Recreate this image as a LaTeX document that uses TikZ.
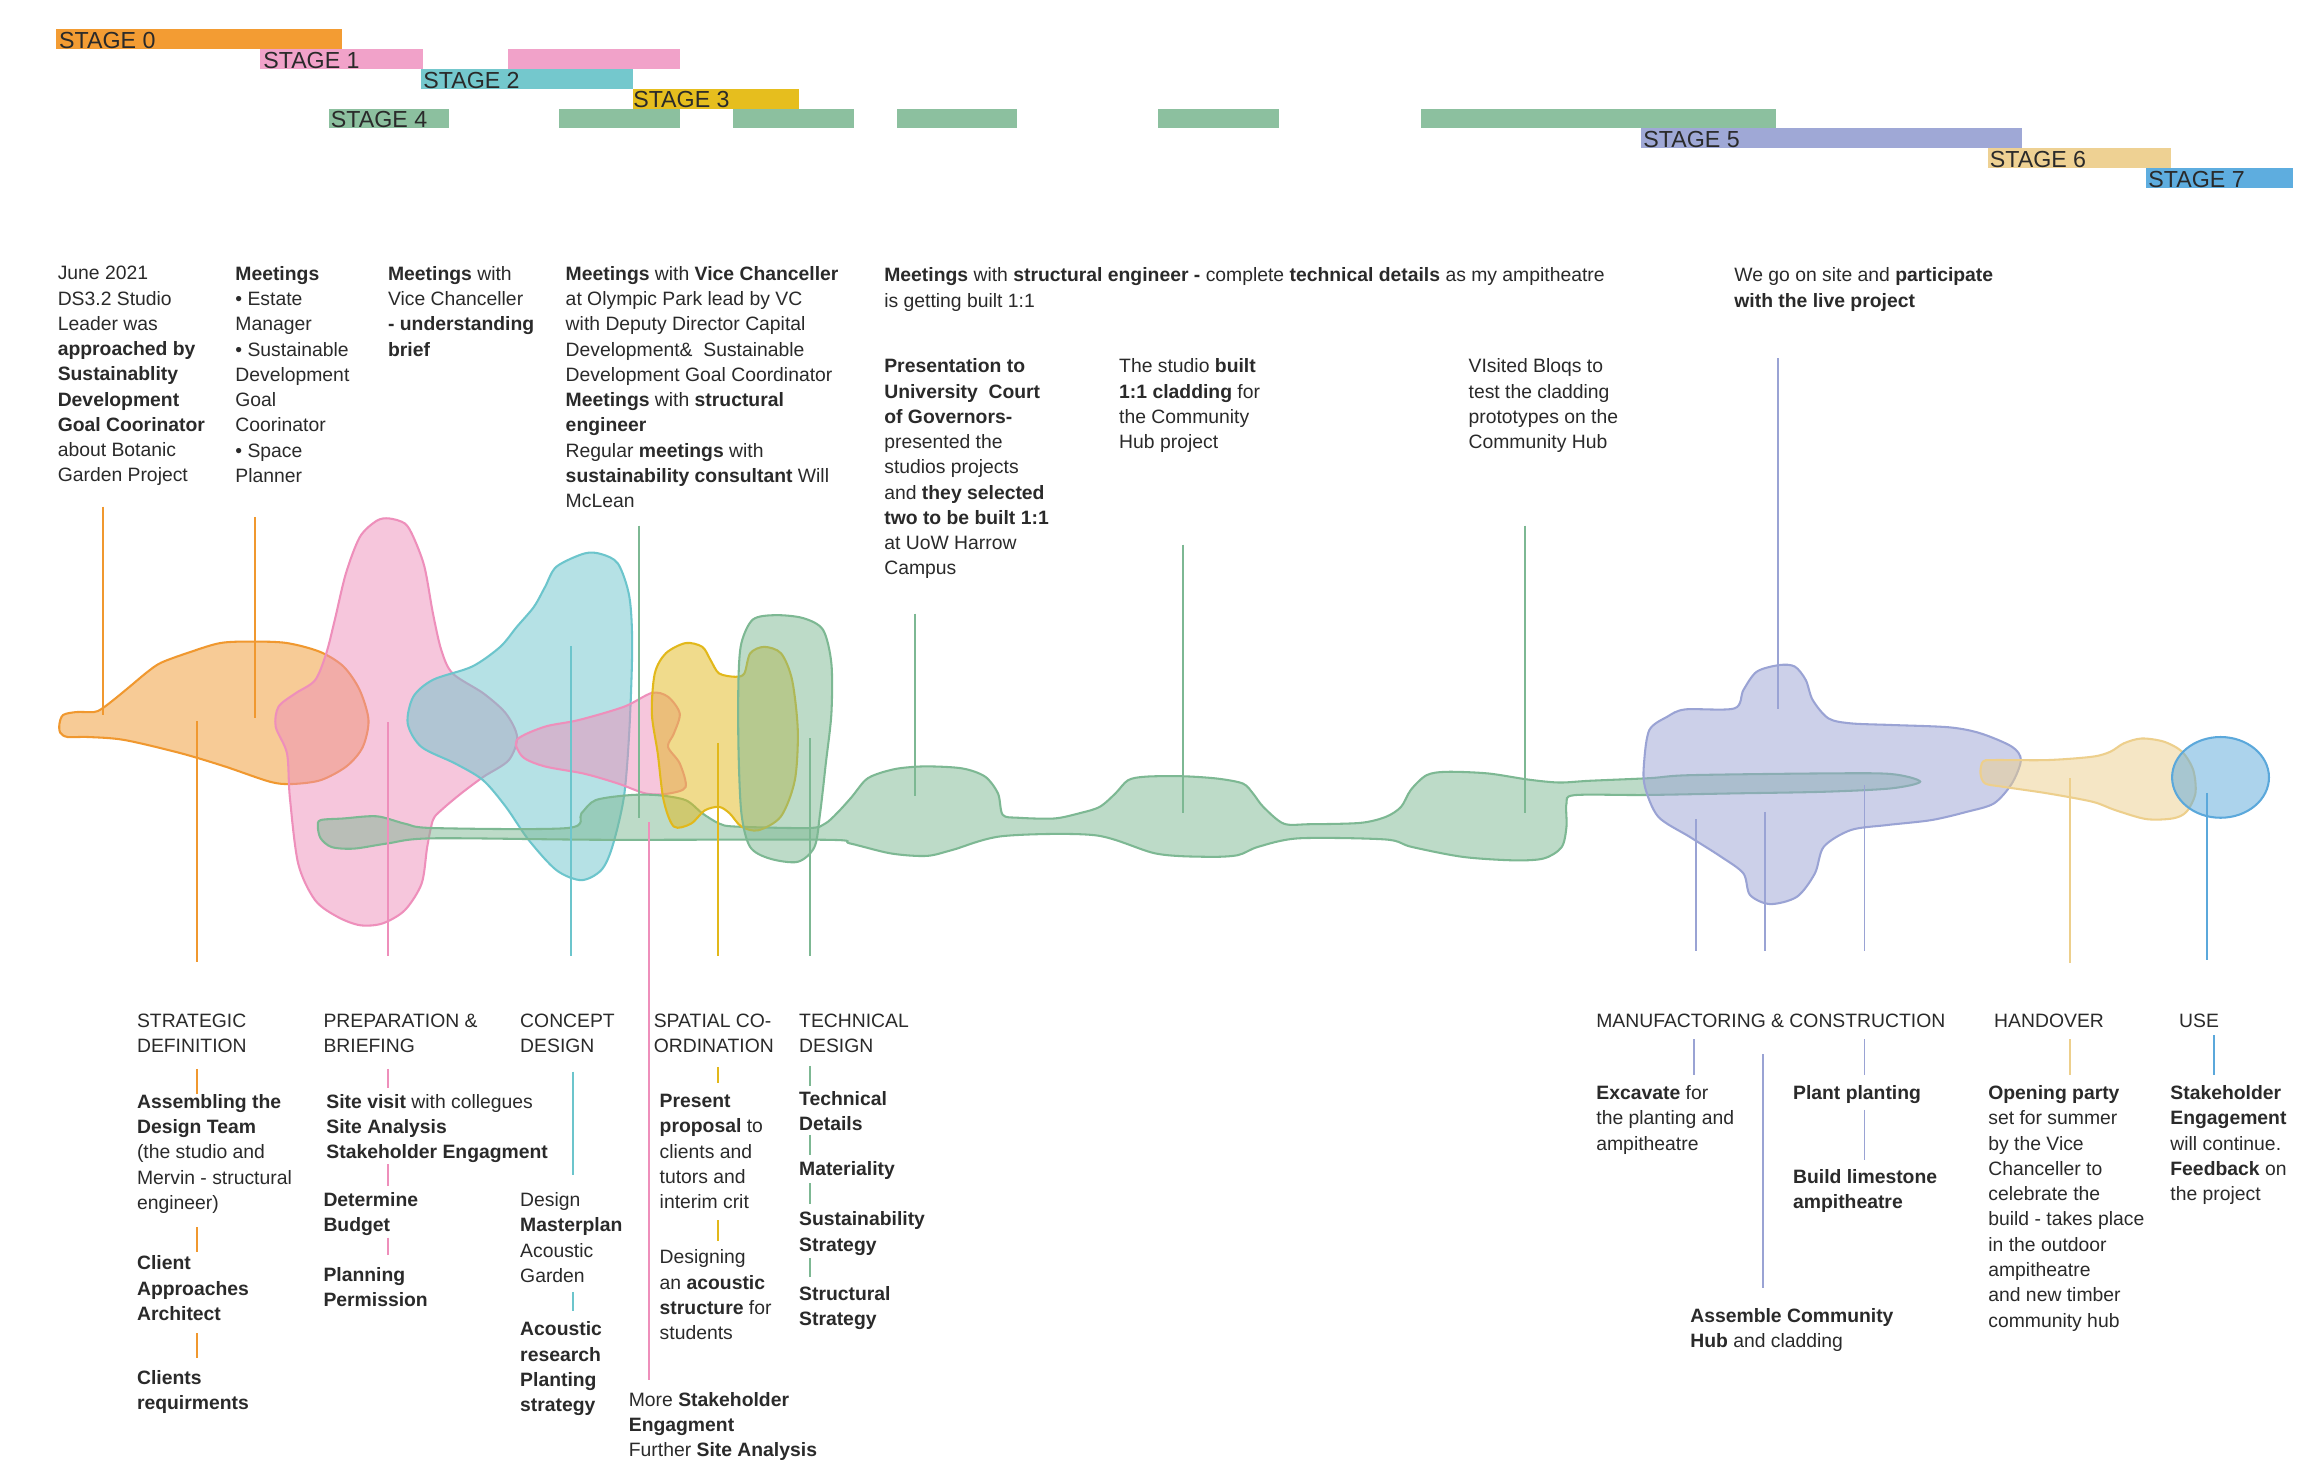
\documentclass[tikz,border=0pt]{standalone}
\usepackage{fontspec}
\setmainfont{Liberation Sans}
\usetikzlibrary{positioning}

\definecolor{ink}{HTML}{2A2A2A}
\definecolor{sOrange}{HTML}{F0982F}
\definecolor{sPink}{HTML}{EE8FBB}
\definecolor{sTeal}{HTML}{6CC5CC}
\definecolor{sYellow}{HTML}{E2B81A}
\definecolor{sGreen}{HTML}{7DB893}
\definecolor{sLav}{HTML}{9AA3D4}
\definecolor{sTan}{HTML}{EDCF8C}
\definecolor{sBlue}{HTML}{5BA8DB}
\definecolor{bOrange}{HTML}{F39C33}
\definecolor{bPink}{HTML}{F1A2C9}
\definecolor{bTeal}{HTML}{74C8CD}
\definecolor{bYellow}{HTML}{E6BE1E}
\definecolor{bGreen}{HTML}{8CC09F}
\definecolor{bLav}{HTML}{9FA8D6}
\definecolor{bTan}{HTML}{EED193}
\definecolor{bBlue}{HTML}{5EADDF}

\tikzset{
  txt/.style={anchor=north west, inner sep=0pt, align=left, text=ink,
    font=\fontsize{7.5}{9.8}\selectfont},
  stagetxt/.style={anchor=west, inner sep=0pt, text=ink,
    font=\fontsize{9}{10}\selectfont},
  blob/.style={draw=#1, line width=0.8pt, fill=#1, fill opacity=0.5},
  lne/.style={draw=#1, line width=0.75pt},
}

\begin{document}
\begin{tikzpicture}[x=0.02cm, y=-0.02cm]
	\useasboundingbox (0,0) rectangle (1568,1002);
	\fill[white] (0,0) rectangle (1568,1002);
	% stage bars
	\fill[bOrange] (38,20) rectangle (233,33.5);
	\fill[bPink] (177,33.5) rectangle (288,47);
	\fill[bPink] (346,33.5) rectangle (463,47);
	\fill[bTeal] (287,47) rectangle (431,60.5);
	\fill[bYellow] (431,60.5) rectangle (544,74);
	\fill[bGreen] (224,74) rectangle (306,87.5);
	\fill[bGreen] (381,74) rectangle (463,87.5);
	\fill[bGreen] (499,74) rectangle (582,87.5);
	\fill[bGreen] (611,74) rectangle (693,87.5);
	\fill[bGreen] (789,74) rectangle (871,87.5);
	\fill[bGreen] (968,74) rectangle (1210,87.5);
	\fill[bLav] (1118,87.5) rectangle (1377,101);
	\fill[bTan] (1354,101) rectangle (1479,114.5);
	\fill[bBlue] (1462,114.5) rectangle (1562,128);
	\node[stagetxt] (st0) at (40,27.5) {STAGE 0};
	\node[stagetxt] (st1) at (179,41) {STAGE 1};
	\node[stagetxt] (st2) at (288,54.5) {STAGE 2};
	\node[stagetxt] (st3) at (431,68) {STAGE 3};
	\node[stagetxt] (st4) at (225,81.5) {STAGE 4};
	\node[stagetxt] (st5) at (1119,95) {STAGE 5};
	\node[stagetxt] (st6) at (1355,108.5) {STAGE 6};
	\node[stagetxt] (st7) at (1463,122) {STAGE 7};

	% blobs
	\draw[blob=sOrange] plot[smooth cycle] coordinates {(40.5,493) (43,487) (52,485) (64,485) (69,483) (77,477) (88,468) (100,458) (109.5,451.5) (127,445) (150,438) (172.5,437) (195.5,438) (218,444) (234,454) (245,470) (251,490.5) (247,509) (236,522) (218.4,531.4) (199,534) (184,532.5) (153,522) (123,513) (84.6,504) (60,502) (46,502) (41,499)};
	\draw[blob=sPink] plot[smooth cycle] coordinates {(265,353.1) (275.7,356.5) (281.5,365.6) (289.1,386) (294.9,417.8) (300.6,442.8) (308.3,458.7) (329.3,472.3) (344.6,486) (352.2,501.9) (346.5,517.8) (329.3,529.1) (314,540.5) (300.6,551.8) (294.9,558.6) (291,576.8) (287.2,601.8) (275.7,620) (260.5,629) (245.2,630.2) (229.9,624.5) (214.6,613.1) (203.1,588.2) (197.4,542.7) (195.5,513.2) (187.8,495) (189.7,481.4) (201.2,472.3) (214.6,463.3) (222.2,445.1) (228,422.4) (235.6,390.6) (245.2,365.6) (256.6,354.7)};
	\draw[blob=sTeal] plot[smooth cycle] coordinates {(398,377) (379,386) (371.3,399.7) (363.7,413.3) (352,427) (340.7,440.6) (321.6,454) (295,463) (281.5,474.6) (277.7,492.8) (287,508.7) (310,520) (329,531.4) (344.6,549.6) (360,572) (379,592.7) (396,599.5) (409.5,592.7) (417,577) (425,542.7) (428.7,497) (430.6,440.6) (428.7,406.5) (421,384) (409.5,377.4)};
	\draw[blob=sPink] plot[smooth cycle] coordinates {(352,504) (371,495) (394,490.5) (425,481.4) (444,472) (455,474.6) (463,486) (459,499.6) (455,508.7) (463,520) (467,536) (455.4,540.5) (440,540.5) (421,533.7) (398,527) (371,522) (356,515.5)};
	\draw[blob=sGreen] plot[smooth cycle] coordinates {(216.5,563) (218.4,558.6) (233.7,557.5) (256.6,556) (275.7,561) (294.9,564) (386.6,564) (396,554) (405.7,545) (428.7,541.6) (447.8,541.6) (467,545) (478.4,554) (490,561) (501,563) (551,564) (562,561) (570,554) (580,543) (589.4,531.4) (598,527) (612,523.4) (631,522) (655.5,523.4) (671,529) (679.8,540.5) (683,555) (693.7,557) (718,557.5) (735,554) (749,549.6) (759.7,540.5) (768.4,531.4) (780.5,529) (804.9,528.7) (829,530.3) (846.6,533.7) (853.5,540.5) (860.5,549.6) (874.4,561) (891.8,561.4) (926.5,560.5) (943.9,556.4) (954.3,549.6) (961,538) (971.7,528) (985.6,525.7) (1013.4,526.8) (1041,531) (1062,533) (1083,531.8) (1124,530) (1150.9,528) (1242.3,526.8) (1288,527.2) (1307.9,532.4) (1288,537) (1242.3,539.3) (1181.4,540.4) (1120.4,541.5) (1072.5,541.6) (1067,547.3) (1067,563) (1063.7,577) (1051.6,584.7) (1030.8,586) (996,583.6) (961.3,576.8) (943.9,571.8) (884.8,571) (857,576.8) (843,582.5) (822,583.6) (787.5,581.4) (745.8,568.9) (683,569.5) (648.5,579) (631,583) (606.8,581.3) (579,574.5) (562.5,572) (409.5,572) (294.9,571) (264,574.5) (241.3,578) (226,577) (218.4,571)};
	\draw[blob=sYellow] plot[smooth cycle] coordinates {(467,438) (453.5,445) (446,458.7) (444,486) (448,513) (452,545) (459,563) (470.7,561) (480,552) (489.8,549.6) (497,554) (505,563) (516.6,565.5) (532,556) (541.4,531.4) (543.4,497.3) (539.5,463) (532,445) (520.4,440.6) (511,445) (507,458.7) (501,461) (489.8,458.7) (484,449.6) (478.4,440.6)};
	\draw[blob=sGreen] plot[smooth cycle] coordinates {(505,438) (512.8,422) (528,419) (547,421) (560.6,429) (566.3,452) (566.3,486) (562.5,520) (558.6,554) (554.8,576.8) (543.4,587) (524.3,584.8) (510.9,576.8) (505,554) (503,509) (503,463)};
	\draw[blob=sLav] plot[smooth cycle] coordinates {(1123.4,497.3) (1135.6,488.2) (1147.8,483.2) (1181.4,482.5) (1187.5,470) (1196.6,457.5) (1211.9,453) (1222.5,454) (1230,463.2) (1234.7,476.8) (1245.4,489.3) (1260.6,492.7) (1288,493.8) (1327.7,495.4) (1349,499.5) (1370.4,508.6) (1376.5,517.7) (1370.4,533.6) (1358.2,547.2) (1339.9,552.9) (1315.5,558.6) (1285,562) (1260.6,565.4) (1242.3,576.7) (1236.2,594.9) (1224,610.8) (1205.7,615.8) (1192,609.6) (1187.5,594.9) (1172.2,583.5) (1150.9,570) (1129.5,556.3) (1120.4,535.9) (1119.8,520)};
	\draw[blob=sTan] plot[smooth cycle] coordinates {(1350.6,518.8) (1358.2,517.7) (1394.8,517.7) (1425.3,515.4) (1437.5,512) (1446.6,506.3) (1458.8,503) (1474,505.2) (1486.3,512) (1493.9,524.5) (1495.4,540.4) (1489.3,552.9) (1480.2,557.4) (1461.9,557.9) (1440.5,551.7) (1425.3,546.1) (1394.8,540.4) (1364.3,535.9) (1352.1,533.6) (1349,526.8)};
	\draw[blob=sBlue] (1512.5,529.5) ellipse [x radius=33, y radius=27.5];

	% top texts
	\node[txt] (jun) at (39,181) {June 2021\\DS3.2 Studio\\Leader was\\\textbf{approached by}\\\textbf{Sustainablity}\\\textbf{Development}\\\textbf{Goal Coorinator}\\about Botanic\\Garden Project};
	\node[txt] (meet) at (160,181) {\textbf{Meetings}\\• Estate\\Manager\\• Sustainable\\Development\\Goal\\Coorinator\\• Space\\Planner};
	\node[txt] (vc) at (264,181) {\textbf{Meetings} with\\Vice Chanceller\\\textbf{- understanding}\\\textbf{brief}};
	\node[txt] (olym) at (385,181) {\textbf{Meetings} with \textbf{Vice Chanceller}\\at Olympic Park lead by VC\\with Deputy Director Capital\\Development\&\ \ Sustainable\\Development Goal Coordinator\\\textbf{Meetings} with \textbf{structural}\\\textbf{engineer}\\Regular \textbf{meetings} with\\\textbf{sustainability consultant} Will\\McLean};
	\node[txt] (struc) at (602,182) {\textbf{Meetings} with \textbf{structural engineer -} complete \textbf{technical details} as my ampitheatre\\is getting built 1:1};
	\node[txt] (pres) at (602,244) {\textbf{Presentation to}\\\textbf{University\ \ Court}\\\textbf{of Governors-}\\presented the\\studios projects\\and \textbf{they selected}\\\textbf{two to be built 1:1}\\at UoW Harrow\\Campus};
	\node[txt] (clad) at (762,244) {The studio \textbf{built}\\\textbf{1:1 cladding} for\\the Community\\Hub project};
	\node[txt] (bloq) at (1000,244) {VIsited Bloqs to\\test the cladding\\prototypes on the\\Community Hub};
	\node[txt] (site) at (1181,182) {We go on site and \textbf{participate}\\\textbf{with the live project}};

	% stage headings
	\node[txt] (hSD) at (93,690) {STRATEGIC\\DEFINITION};
	\node[txt] (hPB) at (220,690) {PREPARATION \&\\BRIEFING};
	\node[txt] (hCD) at (354,690) {CONCEPT\\DESIGN};
	\node[txt] (hSC) at (445,690) {SPATIAL CO-\\ORDINATION};
	\node[txt] (hTD) at (544,690) {TECHNICAL\\DESIGN};
	\node[txt] (hMC) at (1087,690) {MANUFACTORING \& CONSTRUCTION};
	\node[txt] (hHO) at (1358,690) {HANDOVER};
	\node[txt] (hUS) at (1484,690) {USE};

	% bottom texts
	\node[txt] (sd1) at (93,745) {\textbf{Assembling the}\\\textbf{Design Team}\\(the studio and\\Mervin - structural\\engineer)};
	\node[txt] (sd2) at (93,855) {\textbf{Client}\\\textbf{Approaches}\\\textbf{Architect}};
	\node[txt] (sd3) at (93,933) {\textbf{Clients}\\\textbf{requirments}};
	\node[txt] (pb1) at (222,745) {\textbf{Site visit} with collegues\\\textbf{Site Analysis}\\\textbf{Stakeholder Engagment}};
	\node[txt] (pb2) at (220,812) {\textbf{Determine}\\\textbf{Budget}};
	\node[txt] (pb3) at (220,863) {\textbf{Planning}\\\textbf{Permission}};
	\node[txt] (cd1) at (354,812) {Design\\\textbf{Masterplan}\\Acoustic\\Garden};
	\node[txt] (cd2) at (354,900) {\textbf{Acoustic}\\\textbf{research}\\\textbf{Planting}\\\textbf{strategy}};
	\node[txt] (sc1) at (449,745) {\textbf{Present}\\\textbf{proposal} to\\clients and\\tutors and\\interim crit};
	\node[txt] (sc2) at (449,851) {Designing\\an \textbf{acoustic}\\\textbf{structure} for\\students};
	\node[txt] (more) at (428,948) {More \textbf{Stakeholder}\\\textbf{Engagment}\\Further \textbf{Site Analysis}};
	\node[txt] (td1) at (544,743) {\textbf{Technical}\\\textbf{Details}};
	\node[txt] (td2) at (544,791) {\textbf{Materiality}};
	\node[txt] (td3) at (544,825) {\textbf{Sustainability}\\\textbf{Strategy}};
	\node[txt] (td4) at (544,876) {\textbf{Structural}\\\textbf{Strategy}};
	\node[txt] (mc1) at (1087,739) {\textbf{Excavate} for\\the planting and\\ampitheatre};
	\node[txt] (mc2) at (1151,891) {\textbf{Assemble Community}\\\textbf{Hub} and cladding};
	\node[txt] (mc3) at (1221,739) {\textbf{Plant planting}};
	\node[txt] (mc4) at (1221,796) {\textbf{Build limestone}\\\textbf{ampitheatre}};
	\node[txt] (ho1) at (1354,739) {\textbf{Opening party}\\set for summer\\by the Vice\\Chanceller to\\celebrate the\\build - takes place\\in the outdoor\\ampitheatre\\and new timber\\community hub};
	\node[txt] (us1) at (1478,739) {\textbf{Stakeholder}\\\textbf{Engagement}\\will continue.\\\textbf{Feedback} on\\the project};

	% connectors
	\draw[lne=sOrange] (70,345) -- (70,487);
	\draw[lne=sOrange] (174,352) -- (174,489);
	\draw[lne=sOrange] (134,491) -- (134,655);
	\draw[lne=sOrange] (134,728) -- (134,745);
	\draw[lne=sOrange] (134,836) -- (134,853);
	\draw[lne=sOrange] (134,908) -- (134,925);
	\draw[lne=sPink] (264,492) -- (264,651);
	\draw[lne=sPink] (264,728) -- (264,741);
	\draw[lne=sPink] (264,793) -- (264,808);
	\draw[lne=sPink] (264,843) -- (264,855);
	\draw[lne=sPink] (442,560) -- (442,940);
	\draw[lne=sTeal] (389,440) -- (389,651);
	\draw[lne=sTeal] (390,730) -- (390,800);
	\draw[lne=sTeal] (390,880) -- (390,893);
	\draw[lne=sGreen] (435,358) -- (435,557);
	\draw[lne=sGreen] (552,503) -- (552,651);
	\draw[lne=sGreen] (552,726) -- (552,740);
	\draw[lne=sGreen] (552,773) -- (552,787);
	\draw[lne=sGreen] (552,806) -- (552,820);
	\draw[lne=sGreen] (552,857) -- (552,870);
	\draw[lne=sGreen] (623,418) -- (623,542);
	\draw[lne=sGreen] (806,371) -- (806,554);
	\draw[lne=sGreen] (1039,358) -- (1039,554);
	\draw[lne=sYellow] (489,506) -- (489,651);
	\draw[lne=sYellow] (489,727) -- (489,738);
	\draw[lne=sYellow] (489,831) -- (489,845);
	\draw[lne=sLav] (1211,244) -- (1211,483);
	\draw[lne=sLav] (1155,558) -- (1155,648);
	\draw[lne=sLav] (1202,553) -- (1202,648);
	\draw[lne=sLav] (1270,535) -- (1270,648);
	\draw[lne=sLav] (1154,708) -- (1154,732);
	\draw[lne=sLav] (1201,718) -- (1201,877);
	\draw[lne=sLav] (1270,708) -- (1270,732);
	\draw[lne=sLav] (1270,756) -- (1270,790);
	\draw[lne=sTan] (1410,530) -- (1410,656);
	\draw[lne=sTan] (1410,708) -- (1410,732);
	\draw[lne=sBlue] (1503,540) -- (1503,654);
	\draw[lne=sBlue] (1508,705) -- (1508,732);
\end{tikzpicture}
\end{document}
